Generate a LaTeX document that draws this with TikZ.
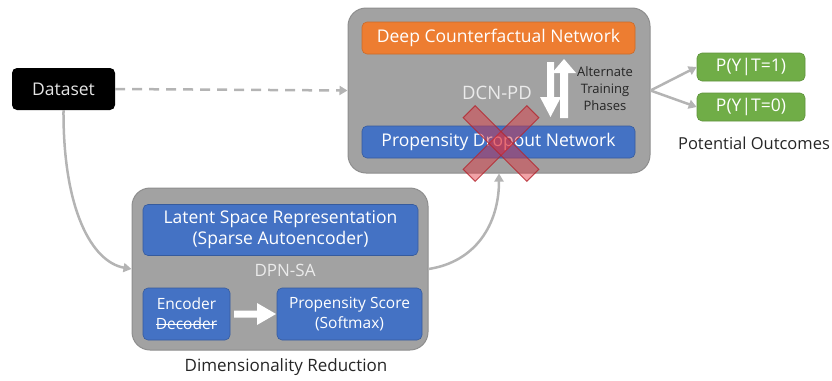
\documentclass[tikz,border=0pt]{standalone}
\usepackage{fontspec}
\setmainfont{Open Sans}
\usetikzlibrary{arrows.meta}
\newsavebox\mystrikebox
\newcommand\mystrike[1]{\sbox\mystrikebox{#1}\rlap{\usebox\mystrikebox}\rule[0.3em]{\wd\mystrikebox}{0.9pt}}
\definecolor{boxgray}{HTML}{A2A2A2}
\definecolor{boxedge}{HTML}{8E8E8E}
\definecolor{linegray}{HTML}{B4B4B4}
\definecolor{myorange}{HTML}{ED7D31}
\definecolor{myblue}{HTML}{4472C4}
\definecolor{mygreen}{HTML}{70AD47}
\definecolor{myred}{HTML}{E0303A}
\tikzset{
  container/.style={draw=boxedge, line width=1pt, fill=boxgray, rounded corners=18pt},
  bluebox/.style={draw=myblue!80!black, line width=0.6pt, fill=myblue, rounded corners=5pt, text=white, align=center, inner sep=0pt},
  orangebox/.style={draw=myorange!85!black, line width=0.6pt, fill=myorange, rounded corners=5pt, text=white, inner sep=0pt},
  greenbox/.style={draw=mygreen!85!black, line width=0.6pt, fill=mygreen, rounded corners=5pt, text=white, inner sep=0pt, minimum width=108pt, minimum height=28pt, font=\fontsize{17.5}{19}\selectfont},
  conn/.style={draw=linegray, line width=2.5pt, -{Triangle[length=8pt,width=9pt]}},
  fat/.style={fill=white, draw=none},
  xbar/.style={rectangle, minimum width=90pt, minimum height=17pt, fill=myred, fill opacity=0.45, draw=myred!80!black, draw opacity=0.8, line width=1pt, inner sep=0pt},
}
\begin{document}
\begin{tikzpicture}[x=1pt, y=-1pt]
\useasboundingbox (0,0) rectangle (832,380);
% containers
\node[container, minimum width=302pt, minimum height=165pt, inner sep=0pt] (top) at (499,90.5) {};
\node[container, minimum width=296pt, minimum height=162pt, inner sep=0pt] (bot) at (280,269) {};
% top contents
\node[orangebox, minimum width=273pt, minimum height=32pt, font=\fontsize{17.5}{19}\selectfont] (dcn) at (498.5,38) {Deep Counterfactual Network};
\node[bluebox, minimum width=273pt, minimum height=32pt, font=\fontsize{17.5}{19}\selectfont] (pdn) at (498.5,142) {Propensity Dropout Network};
\node[text=white!92!black, font=\fontsize{18.5}{20}\selectfont] (dcnpd) at (497,93) {DCN-PD};
\node[text=black!85, align=center, font=\fontsize{13}{17}\selectfont] (alt) at (605,89) {Alternate\\Training\\Phases};
% fat arrows
\fill[fat] (547,62) -- (554,62) -- (554,97) -- (561,97) -- (550.5,117) -- (540,97) -- (547,97) -- cycle;
\fill[fat] (560,118) -- (568,118) -- (568,73) -- (576,73) -- (564,59) -- (552,73) -- (560,73) -- cycle;
% red cross
\node[xbar, rotate=45] (xa) at (501,143.5) {};
\node[xbar, rotate=-45] (xb) at (501,143.5) {};
% dataset
\node[fill=black, rounded corners=5pt, minimum width=103pt, minimum height=42pt, text=white!90!black, inner sep=0pt, font=\fontsize{17.5}{19}\selectfont] (data) at (63.5,89) {Dataset};
% green outcomes
\node[greenbox] (p1) at (751,67) {P(Y|T=1)};
\node[greenbox] (p0) at (751,107) {P(Y|T=0)};
\node[text=black!85, font=\fontsize{16.5}{19}\selectfont] (po) at (754,143) {Potential Outcomes};
% bottom contents
\node[bluebox, minimum width=275pt, minimum height=51pt, font=\fontsize{17.5}{21}\selectfont] (lsr) at (280.5,230) {Latent Space Representation\\(Sparse Autoencoder)};
\node[text=white!92!black, font=\fontsize{17}{19}\selectfont] (dpnsa) at (285,270) {DPN-SA};
\node[bluebox, minimum width=87pt, minimum height=52pt, font=\fontsize{15.5}{20}\selectfont] (enc) at (186.5,314) {Encoder\\\mystrike{Decoder}};
\node[bluebox, minimum width=145pt, minimum height=52pt, font=\fontsize{15.5}{20}\selectfont] (ps) at (349.5,314) {Propensity Score\\(Softmax)};
\node[text=black!85, font=\fontsize{17}{19}\selectfont] (dr) at (286,367) {Dimensionality Reduction};
% white arrow encoder -> ps
\fill[fat] (234,310.5) -- (257,310.5) -- (257,303) -- (276,314) -- (257,325) -- (257,317.5) -- (234,317.5) -- cycle;
% connectors
\draw[conn, dashed, dash pattern=on 10pt off 7pt] (data.east) -- (top.west);
\draw[conn] (data.south) .. controls (63,210) and (92,262) .. (bot.west);
\draw[conn] (bot.east) .. controls (475,262) and (499,225) .. (top.south);
\draw[conn] (top.east) -- (p1.west);
\draw[conn] (top.east) -- (p0.west);
\end{tikzpicture}
\end{document}
